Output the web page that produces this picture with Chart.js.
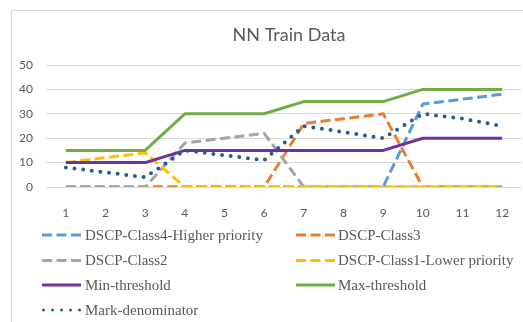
<!DOCTYPE html>
<html><head><meta charset="utf-8">
<script src="https://cdn.jsdelivr.net/npm/chart.js@4"></script>
<style>html,body{margin:0;padding:0;background:#fff}#wrap{width:523px;height:322px;position:relative}</style>
</head><body><div id="wrap"><canvas id="c" width="523" height="322"></canvas></div>
<script>
const categories = ['1','2','3','4','5','6','7','8','9','10','11','12'];
const class4 = [0,0,0,0,0,0,0,0,0,34,36,38];
const class3 = [0,0,0,0,0,0,26,28,30,0,0,0];
const class2 = [0,0,0,18,20,22,0,0,0,0,0,0];
const class1 = [10,12,14,0,0,0,0,0,0,0,0,0];
const minThreshold = [10,10,10,15,15,15,15,15,15,20,20,20];
const maxThreshold = [15,15,15,30,30,30,35,35,35,40,40,40];
const markDenominator = [8,6,4,15,13,11,25,22.5,20,30,28,25];
const seriesNames = ['DSCP-Class4-Higher priority','DSCP-Class3','DSCP-Class2','DSCP-Class1-Lower priority','Min-threshold','Max-threshold','Mark-denominator'];
const chartTitle = 'NN Train Data';
const yTicks = [0,10,20,30,40,50];

const dashA = [10,4.5];
function ds(label, data, color, dash, cap, w){
  return {label, data, borderColor: color, backgroundColor: color, borderWidth: w || 3,
    borderDash: dash, borderCapStyle: cap || 'butt', borderJoinStyle: 'round',
    pointRadius: 0, tension: 0, fill: false};
}
const datasets = [
  ds(seriesNames[0], class4, '#5B9BD5', dashA),
  ds(seriesNames[1], class3, '#ED7D31', dashA),
  ds(seriesNames[2], class2, '#A5A5A5', dashA),
  ds(seriesNames[3], class1, '#FFC000', dashA),
  ds(seriesNames[4], minThreshold, '#7030A0', []),
  ds(seriesNames[5], maxThreshold, '#70AD47', []),
  ds(seriesNames[6], markDenominator, '#255E91', [0,8.7], 'round', 4)
];
datasets.forEach((d,i)=>{ d.order = datasets.length - i; });

const framePlugin = {
  id: 'frame',
  beforeDraw(chart){
    const c = chart.ctx; c.save();
    c.strokeStyle = '#d9d9d9'; c.lineWidth = 1;
    c.beginPath(); c.moveTo(11.5, 322); c.lineTo(11.5, 10.5); c.lineTo(523, 10.5); c.stroke();
    c.restore();
  }
};
const titlePlugin = {
  id: 'fixedTitle',
  afterDraw(chart){
    const c = chart.ctx; c.save();
    c.font = '18px Lato, "Open Sans", sans-serif';
    c.fillStyle = '#595959'; c.textAlign = 'center'; c.textBaseline = 'alphabetic';
    c.fillText(chartTitle, 289, 41);
    c.restore();
  }
};
const legendPlugin = {
  id: 'gridLegend',
  afterDraw(chart){
    const c = chart.ctx; c.save();
    const rows = [235, 260.5, 285, 310];
    const cols = [{s:42,e:81,t:85},{s:296,e:335,t:338}];
    c.font = '15px "Liberation Serif", "DejaVu Serif", serif';
    c.textBaseline = 'middle'; c.fillStyle = '#595959';
    chart.data.datasets.forEach((d,i)=>{
      const col = cols[i%2], y = rows[Math.floor(i/2)];
      c.save();
      c.strokeStyle = d.borderColor;
      c.lineCap = d.borderCapStyle;
      c.beginPath();
      if (d.borderCapStyle === 'round') {
        c.lineWidth = 3; c.setLineDash([0, 9]);
        c.moveTo(43.5 + (col.s-42), y); c.lineTo(col.e, y);
      } else {
        c.lineWidth = d.borderWidth; c.setLineDash(d.borderDash);
        c.moveTo(col.s, y); c.lineTo(col.e, y);
      }
      c.stroke(); c.restore();
      c.fillText(d.label, col.t, y+1);
    });
    c.restore();
  }
};

new Chart(document.getElementById('c'), {
  type: 'line',
  data: { labels: categories, datasets },
  plugins: [framePlugin, titlePlugin, legendPlugin],
  options: {
    responsive: false, animation: false, devicePixelRatio: 1,
    layout: { padding: { left: 0, right: 1, top: 65, bottom: 0 } },
    plugins: {
      legend: { display: false },
      tooltip: { enabled: false },
      title: { display: false, text: chartTitle }
    },
    scales: {
      x: { offset: true, grid: { display: false }, border: { display: false },
        ticks: { color: '#595959', padding: 11, font: { family: 'Lato, "Open Sans", sans-serif', size: 12 } },
        afterFit(s){ s.height = 135; } },
      y: { min: 0, max: 50, afterBuildTicks(s){ s.ticks = yTicks.map(v=>({value:v})); },
        grid: { color: '#d9d9d9', lineWidth: 1, drawTicks: false }, border: { display: false },
        ticks: { color: '#595959', padding: 13, font: { family: 'Lato, "Open Sans", sans-serif', size: 12 } },
        afterFit(s){ s.width = 46; } }
    }
  }
});
</script></body></html>
